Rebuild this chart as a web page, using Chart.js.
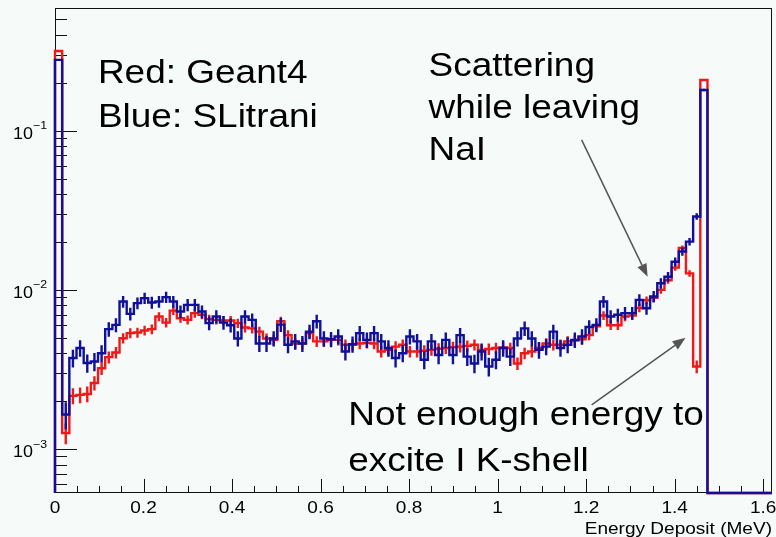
<!DOCTYPE html>
<html>
<head>
<meta charset="utf-8">
<script src="https://cdn.jsdelivr.net/npm/chart.js@4.4.1/dist/chart.umd.min.js"></script>
<style>
  html, body { margin: 0; padding: 0; background: #f6faf8; }
</style>
</head>
<body>
<canvas id="grafico" width="776" height="537"></canvas>
<script>
// binning del histograma (100 bins de 0 a 1.62 MeV)
const nBins = 100;
const xMin = 0;
const xMax = 1.62;
const yMin = 5.3e-4;
const yMax = 0.589;

// Red: Geant4
const geant4 = [
  0.316, 1.26e-3, 2.16e-3, 2.19e-3, 2.22e-3, 2.6e-3, 3.22e-3, 3.78e-3, 4.04e-3, 4.97e-3,
  5.35e-3, 5.4e-3, 5.56e-3, 5.67e-3, 6.8e-3, 6.23e-3, 7.41e-3, 6.64e-3, 6.48e-3, 7.14e-3,
  6.97e-3, 6.55e-3, 6.48e-3, 6.42e-3, 6.42e-3, 6.18e-3, 5.8e-3, 5.73e-3, 5.47e-3, 4.95e-3,
  4.85e-3, 6.35e-3, 5.2e-3, 4.6e-3, 4.6e-3, 5.35e-3, 4.75e-3, 4.75e-3, 4.85e-3, 4.85e-3,
  4.52e-3, 4.52e-3, 4.6e-3, 4.65e-3, 4.6e-3, 4.1e-3, 4.2e-3, 4.4e-3, 4.52e-3, 4.1e-3,
  4.1e-3, 4.15e-3, 4.2e-3, 4.27e-3, 4.31e-3, 4.37e-3, 4.4e-3, 4.45e-3, 4.52e-3, 4.2e-3,
  4.25e-3, 4.31e-3, 4.35e-3, 4.31e-3, 3.45e-3, 4.0e-3, 4.1e-3, 4.31e-3, 4.6e-3, 4.52e-3,
  4.52e-3, 4.75e-3, 4.8e-3, 4.9e-3, 5.2e-3, 5.9e-3, 6.9e-3, 6.0e-3, 6.0e-3, 6.8e-3,
  6.9e-3, 7.7e-3, 8.6e-3, 8.9e-3, 1.0e-2, 1.15e-2, 1.38e-2, 1.83e-2, 1.27e-2, 3.3e-3,
  0.208, 0, 0, 0, 0, 0, 0, 0, 0, 0
];

// Blue: SLitrani
const slitrani = [
  0.278, 1.65e-3, 3.73e-3, 4.31e-3, 3.47e-3, 3.55e-3, 4.0e-3, 5.67e-3, 6.03e-3, 8.45e-3,
  7.07e-3, 8.25e-3, 8.87e-3, 8.33e-3, 8.45e-3, 9.0e-3, 8.45e-3, 7.31e-3, 8.05e-3, 8.05e-3,
  7.31e-3, 6.18e-3, 6.8e-3, 6.23e-3, 6.0e-3, 4.95e-3, 6.8e-3, 6.48e-3, 4.6e-3, 4.6e-3,
  4.95e-3, 6.05e-3, 4.52e-3, 4.75e-3, 4.6e-3, 5.47e-3, 6.35e-3, 4.95e-3, 4.9e-3, 5.1e-3,
  4.1e-3, 4.56e-3, 5.35e-3, 4.85e-3, 5.35e-3, 4.75e-3, 4.31e-3, 3.73e-3, 4.0e-3, 5.1e-3,
  4.75e-3, 3.64e-3, 4.75e-3, 3.9e-3, 4.85e-3, 3.9e-3, 5.2e-3, 3.81e-3, 3.45e-3, 4.1e-3,
  3.3e-3, 3.64e-3, 4.31e-3, 3.81e-3, 4.95e-3, 5.73e-3, 4.95e-3, 4.2e-3, 4.4e-3, 5.47e-3,
  4.31e-3, 4.52e-3, 4.85e-3, 5.1e-3, 5.85e-3, 6.03e-3, 8.45e-3, 6.8e-3, 6.97e-3, 7.14e-3,
  7.14e-3, 8.65e-3, 7.67e-3, 9.08e-3, 1.1e-2, 1.21e-2, 1.5e-2, 1.74e-2, 2.01e-2, 2.89e-2,
  0.18, 0, 0, 0, 0, 0, 0, 0, 0, 0
];

// eventos equivalentes para las barras de error (sqrt(N))
const eventosGeant4 = 35500;
const eventosSlitrani = 16500;

const xTicks = [0, 0.2, 0.4, 0.6, 0.8, 1, 1.2, 1.4, 1.6];
const xTickLabels = ["0", "0.2", "0.4", "0.6", "0.8", "1", "1.2", "1.4", "1.6"];
const yTicks = [1e-3, 1e-2, 1e-1];
const yTickExp = ["\u22123", "\u22122", "\u22121"];
const xTitulo = "Energy Deposit (MeV)";

// textos y flechas (en coordenadas de datos)
const notas = [
  { texto: "Red: Geant4", x: 0.097, y: 0.1984 },
  { texto: "Blue: SLitrani", x: 0.097, y: 0.105 },
  { texto: "Scattering", x: 0.844, y: 0.2205 },
  { texto: "while leaving", x: 0.844, y: 0.1201 },
  { texto: "NaI", x: 0.844, y: 0.0655 },
  { texto: "Not enough energy to", x: 0.6627, y: 1.421e-3 },
  { texto: "excite I K-shell", x: 0.6627, y: 7.31e-4 }
];
const flechas = [
  { x1: 1.1899, y1: 0.0874, x2: 1.339, y2: 0.01207 },
  { x1: 1.2125, y1: 1.897e-3, x2: 1.4247, y2: 4.996e-3 }
];

const fuente = "'Liberation Sans', Arial, sans-serif";
const estiramiento = 1.12; // la imagen original esta estirada en horizontal

function texto(ctx, str, x, y, size, align) {
  ctx.save();
  ctx.font = size + "px " + fuente;
  ctx.textAlign = align || "left";
  ctx.textBaseline = "alphabetic";
  ctx.translate(x, y);
  ctx.scale(estiramiento, 1);
  ctx.fillText(str, 0, 0);
  ctx.restore();
}

function anchoTexto(ctx, str, size) {
  ctx.save();
  ctx.font = size + "px " + fuente;
  const w = ctx.measureText(str).width * estiramiento;
  ctx.restore();
  return w;
}

function puntosHist(valores) {
  const ancho = (xMax - xMin) / nBins;
  const pts = [{ x: xMin, y: yMin }];
  valores.forEach((v, i) => pts.push({ x: xMin + i * ancho, y: Math.max(v, yMin) }));
  pts.push({ x: xMax, y: Math.max(valores[valores.length - 1], yMin) });
  return pts;
}

const fondo = {
  id: "fondo",
  beforeDraw(chart) {
    const ctx = chart.ctx;
    ctx.save();
    ctx.fillStyle = "#f6faf8";
    ctx.fillRect(0, 0, chart.width, chart.height);
    ctx.restore();
  }
};

// ejes al estilo ROOT: marcas hacia dentro
const ejes = {
  id: "ejes",
  beforeDatasetsDraw(chart) {
    const ctx = chart.ctx;
    const a = chart.chartArea;
    const xs = chart.scales.x, ys = chart.scales.y;
    ctx.save();
    ctx.strokeStyle = "#111";
    ctx.lineWidth = 1;
    ctx.strokeRect(a.left + 0.5, a.top + 0.5, a.right - a.left - 1, a.bottom - a.top - 1);

    ctx.beginPath();
    for (let k = -4; k <= 0; k++) {
      for (let m = 1; m <= 9; m++) {
        const v = m * Math.pow(10, k);
        if (v < yMin || v > yMax) continue;
        const y = Math.round(ys.getPixelForValue(v)) + 0.5;
        const len = m === 1 ? 22 : 12;
        ctx.moveTo(a.left, y);
        ctx.lineTo(a.left + len, y);
      }
    }
    for (let i = 0; i * 0.05 <= xMax + 1e-9; i++) {
      const x = Math.round(xs.getPixelForValue(i * 0.05)) + 0.5;
      const len = i % 4 === 0 ? 14 : 7;
      ctx.moveTo(x, a.bottom);
      ctx.lineTo(x, a.bottom - len);
    }
    ctx.stroke();

    ctx.fillStyle = "#000";
    xTicks.forEach((v, i) => {
      texto(ctx, xTickLabels[i], xs.getPixelForValue(v), a.bottom + 19.5, 17, "center");
    });
    yTicks.forEach((v, i) => {
      const y = ys.getPixelForValue(v);
      const derecha = a.left - 8;
      const wExp = anchoTexto(ctx, yTickExp[i], 11);
      texto(ctx, yTickExp[i], derecha, y - 1.5, 11, "right");
      texto(ctx, "10", derecha - wExp, y + 8, 16, "right");
    });
    texto(ctx, xTitulo, a.right, a.bottom + 40.5, 17, "right");
    ctx.restore();
  }
};

// barras de error de cada histograma
const errores = {
  id: "errores",
  afterDatasetDraw(chart, args) {
    const ds = chart.data.datasets[args.index];
    const ctx = chart.ctx;
    const a = chart.chartArea;
    const xs = chart.scales.x, ys = chart.scales.y;
    const ancho = (xMax - xMin) / nBins;
    ctx.save();
    ctx.beginPath();
    ctx.rect(a.left, a.top, a.right - a.left, a.bottom - a.top);
    ctx.clip();
    ctx.strokeStyle = ds.borderColor;
    ctx.lineWidth = ds.borderWidth;
    ctx.beginPath();
    ds.valores.forEach((v, i) => {
      if (v <= 0) return;
      const rel = 1 / Math.sqrt(v * ds.eventos);
      const x = xs.getPixelForValue(xMin + (i + 0.5) * ancho);
      ctx.moveTo(x, ys.getPixelForValue(v * (1 + rel)));
      ctx.lineTo(x, ys.getPixelForValue(Math.max(v * (1 - rel), yMin)));
    });
    ctx.stroke();
    ctx.restore();
  }
};

const anotaciones = {
  id: "anotaciones",
  afterDatasetsDraw(chart) {
    const ctx = chart.ctx;
    const xs = chart.scales.x, ys = chart.scales.y;
    ctx.save();
    ctx.fillStyle = "#000";
    notas.forEach(n => texto(ctx, n.texto, xs.getPixelForValue(n.x), ys.getPixelForValue(n.y), 33, "left"));

    ctx.strokeStyle = "#555";
    ctx.fillStyle = "#555";
    ctx.lineWidth = 1.5;
    flechas.forEach(f => {
      const x1 = xs.getPixelForValue(f.x1), y1 = ys.getPixelForValue(f.y1);
      const x2 = xs.getPixelForValue(f.x2), y2 = ys.getPixelForValue(f.y2);
      const ang = Math.atan2(y2 - y1, x2 - x1);
      const largo = 13, medio = 5;
      const bx = x2 - largo * Math.cos(ang), by = y2 - largo * Math.sin(ang);
      ctx.beginPath();
      ctx.moveTo(x1, y1);
      ctx.lineTo(bx, by);
      ctx.stroke();
      ctx.beginPath();
      ctx.moveTo(x2, y2);
      ctx.lineTo(bx + medio * Math.sin(ang), by - medio * Math.cos(ang));
      ctx.lineTo(bx - medio * Math.sin(ang), by + medio * Math.cos(ang));
      ctx.closePath();
      ctx.fill();
    });
    ctx.restore();
  }
};

const ctx = document.getElementById("grafico").getContext("2d");
new Chart(ctx, {
  type: "line",
  data: {
    datasets: [
      {
        label: "Geant4",
        data: puntosHist(geant4),
        valores: geant4,
        eventos: eventosGeant4,
        borderColor: "#f01818",
        borderWidth: 2.4,
        stepped: "before",
        pointRadius: 0,
        fill: false,
        order: 1,
        clip: { left: 2, top: 0, right: 0, bottom: 2 }
      },
      {
        label: "SLitrani",
        data: puntosHist(slitrani),
        valores: slitrani,
        eventos: eventosSlitrani,
        borderColor: "#10109a",
        borderWidth: 2.4,
        stepped: "before",
        pointRadius: 0,
        fill: false,
        order: 0,
        clip: { left: 2, top: 0, right: 0, bottom: 2 }
      }
    ]
  },
  options: {
    responsive: false,
    animation: false,
    layout: { padding: { left: 55, top: 8, right: 4, bottom: 44 } },
    plugins: {
      legend: { display: false },
      tooltip: { enabled: false }
    },
    scales: {
      x: { type: "linear", min: xMin, max: xMax, display: false },
      y: { type: "logarithmic", min: yMin, max: yMax, display: false }
    }
  },
  plugins: [fondo, ejes, errores, anotaciones]
});
</script>
</body>
</html>
